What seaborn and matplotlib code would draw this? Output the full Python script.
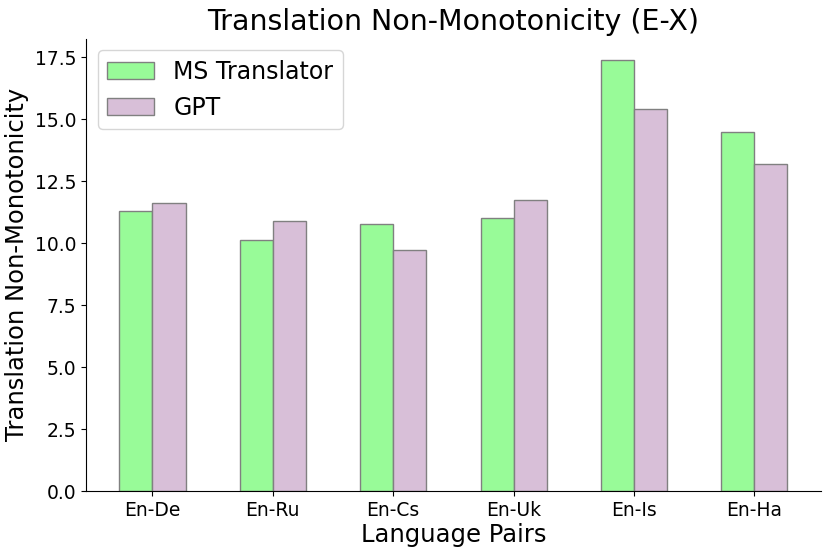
import matplotlib
matplotlib.use('Agg')
import matplotlib.pyplot as plt
import seaborn as sns
import pandas as pd

# values
pairs = ['En-De', 'En-Ru', 'En-Cs', 'En-Uk', 'En-Is', 'En-Ha']
ms_translator = [11.30, 10.13, 10.76, 11.03, 17.39, 14.50]
gpt = [11.61, 10.88, 9.73, 11.74, 15.40, 13.21]
systems = ['MS Translator', 'GPT']

df = pd.DataFrame({
    'Language Pair': pairs * 2,
    'System': [systems[0]] * len(pairs) + [systems[1]] * len(pairs),
    'Score': ms_translator + gpt,
})

sns.set_style('ticks')
plt.rcParams['font.family'] = ['DejaVu Sans']
plt.rcParams.update({
    'text.color': 'black',
    'axes.labelcolor': 'black',
    'axes.edgecolor': 'black',
    'xtick.color': 'black',
    'ytick.color': 'black',
})

fig, ax = plt.subplots(figsize=(8.3, 5.54), dpi=100)
fig.subplots_adjust(left=0.1036, right=0.989, bottom=0.1137, top=0.9305)

sns.barplot(data=df, x='Language Pair', y='Score', hue='System',
            palette=['palegreen', 'thistle'], saturation=1, width=0.55,
            edgecolor='grey', linewidth=1, ax=ax)

ax.set_xlim(-0.5525, 5.5525)
ax.set_ylim(0, max(ms_translator + gpt) * 1.05)
ax.set_title('Translation Non-Monotonicity (E-X)', fontsize=20.5)
ax.set_xlabel('Language Pairs', fontsize=17.5, labelpad=2)
ax.set_ylabel('Translation Non-Monotonicity', fontsize=17.5)
ax.tick_params(axis='both', labelsize=13.5)
ax.legend(loc='upper left', fontsize=17)
sns.despine(ax=ax)

plt.savefig('out.png', dpi=100)
